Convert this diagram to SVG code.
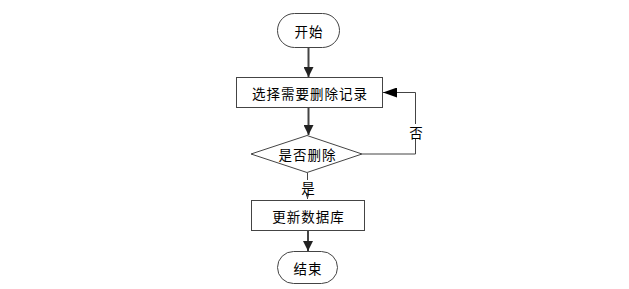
<svg xmlns="http://www.w3.org/2000/svg" width="629" height="289" viewBox="0 0 629 289">
<defs>
<style>
.n{fill:#fff;stroke:#444;stroke-width:1}
.t{font-family:"Noto Sans CJK SC","Liberation Sans",sans-serif;font-size:13.5px;fill:#000;text-anchor:middle;dominant-baseline:central;letter-spacing:1px}
.c{fill:none;stroke:#444;stroke-width:2}
.c1{fill:none;stroke:#444;stroke-width:1}
</style>
<marker id="a" markerWidth="10" markerHeight="10" refX="10" refY="5" orient="auto" markerUnits="userSpaceOnUse"><path d="M0,0 L10,5 L0,10 Z" fill="#222"/></marker>
<marker id="b" markerWidth="14" markerHeight="10" refX="14" refY="5" orient="auto" markerUnits="userSpaceOnUse"><path d="M0,0 L14,5 L0,10 Z" fill="#000"/></marker>
<marker id="s" markerWidth="5" markerHeight="4" refX="5" refY="2" orient="auto" markerUnits="userSpaceOnUse"><path d="M0,0 L5,2 L0,4 Z" fill="#444"/></marker>
</defs>
<rect width="629" height="289" fill="#fff"/>
<g id="connectors">
<line class="c" x1="308.5" y1="48" x2="308.5" y2="77" marker-end="url(#a)"/>
<line class="c" x1="308.5" y1="107" x2="308.5" y2="135" marker-end="url(#a)"/>
<line class="c1" x1="307.5" y1="173" x2="307.5" y2="199" marker-end="url(#s)"/>
<polyline class="c1" points="362,154 415.5,154 415.5,92.5 383,92.5" marker-end="url(#b)"/>
<line class="c" x1="308" y1="231" x2="308" y2="251" marker-end="url(#a)"/>
<rect x="300" y="180" width="16" height="14" fill="#fff"/>
<text class="t" x="308.5" y="187">是</text>
<rect x="408" y="124" width="16" height="15" fill="#fff"/>
<text class="t" x="416.5" y="131.5">否</text>
</g>
<g id="start"><rect class="n" x="277.5" y="13.5" width="62" height="34" rx="17"/><text class="t" x="309" y="30.5">开始</text></g>
<g id="select"><rect class="n" x="236.5" y="77.5" width="146" height="30"/><text class="t" x="310" y="92.5">选择需要删除记录</text></g>
<g id="decide"><polygon class="n" points="251,154 307,135.5 362,154 307,172.5"/><text class="t" x="307.5" y="154">是否删除</text></g>
<g id="update"><rect class="n" x="251.5" y="200.5" width="113" height="30"/><text class="t" x="308.5" y="215.5">更新数据库</text></g>
<g id="end"><rect class="n" x="277.5" y="251.5" width="60" height="32" rx="16"/><text class="t" x="308" y="267.5">结束</text></g>
</svg>
